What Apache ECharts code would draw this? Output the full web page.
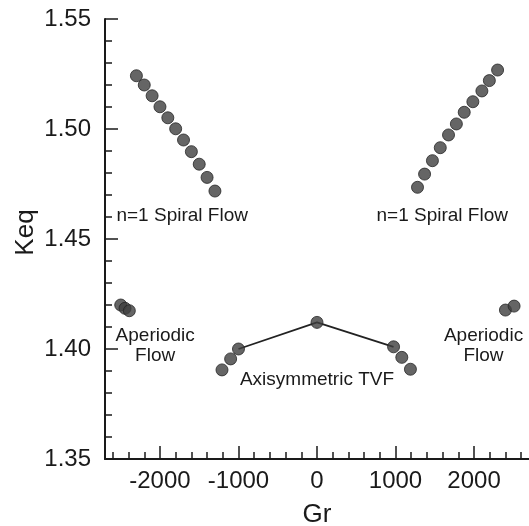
<!DOCTYPE html>
<html>
<head>
<meta charset="utf-8">
<script src="https://cdn.jsdelivr.net/npm/echarts@6/dist/echarts.min.js"></script>
<style>
html,body{margin:0;padding:0;background:#fff;}
#chart{width:529px;height:526px;}
</style>
</head>
<body>
<div id="chart"></div>
<script>
// ---- data ----
const spiralLeftGr  = [-2300,-2200,-2100,-2000,-1900,-1800,-1700,-1600,-1500,-1400,-1300];
const spiralLeftKeq = [1.5242,1.5200,1.5151,1.5101,1.5051,1.5001,1.4950,1.4897,1.4840,1.4780,1.4718];
const spiralRightGr  = [1280,1370,1470,1570,1675,1775,1875,1985,2100,2195,2300];
const spiralRightKeq = [1.4735,1.4795,1.4856,1.4915,1.4973,1.5023,1.5076,1.5124,1.5173,1.5220,1.5268];
const aperiodicLeftGr  = [-2500,-2445,-2390];
const aperiodicLeftKeq = [1.4200,1.4185,1.4174];
const aperiodicRightGr  = [2400,2510];
const aperiodicRightKeq = [1.4177,1.4195];
const tvfGr  = [-1210,-1100,-1000,0,975,1080,1190];
const tvfKeq = [1.3905,1.3955,1.4000,1.4121,1.4010,1.3962,1.3908];
const tvfLineIdx = [2,3,4];   // points joined by the line

const xTickLabels = [-2000,-1000,0,1000,2000];
const xMinorTicks = [-2600,-2400,-2200,-1800,-1600,-1400,-1200,-800,-600,-400,-200,200,400,600,800,1200,1400,1600,1800,2200,2400,2600];
const annoText = ['n=1 Spiral Flow','n=1 Spiral Flow','Aperiodic\nFlow','Aperiodic\nFlow','Axisymmetric TVF'];
const annoGr   = [-1717,1595,-2061,2121,0];
const annoKeq  = [1.4605,1.4605,1.4015,1.4015,1.3862];

const zip = (a,b) => a.map((v,i)=>[v,b[i]]);
const FONT = 'Liberation Sans, Arial, Helvetica, sans-serif';
const dot = {color:'#3e3e3e', borderColor:'#262626', borderWidth:1};

function scatter(name, xs, ys){
  return {type:'scatter', name, data: zip(xs,ys), symbolSize:12, itemStyle:dot, z:5, xAxisIndex:0};
}

const chart = echarts.init(document.getElementById('chart'));
chart.setOption({
  animation:false,
  backgroundColor:'#fff',
  grid:{left:105, right:0, top:19, bottom:67, containLabel:false, outerBoundsMode:'none'},
  xAxis:[{
    type:'value', min:-2700, max:2700, position:'bottom',
    name:'Gr', nameLocation:'middle', nameGap:43, nameMoveOverlap:false,
    nameTextStyle:{fontFamily:FONT, fontSize:26, color:'#1a1a1a'},
    axisLine:{show:true, onZero:false, lineStyle:{color:'#1a1a1a', width:2}},
    axisTick:{show:true, inside:true, length:13, customValues:xTickLabels, lineStyle:{color:'#1a1a1a', width:1.5}},
    axisLabel:{customValues:xTickLabels, margin:10, fontFamily:FONT, fontSize:24, color:'#1a1a1a', formatter:v=>String(v)},
    splitLine:{show:false}
  },{
    type:'value', min:-2700, max:2700, position:'bottom',
    axisLine:{show:false, onZero:false},
    axisTick:{show:true, inside:true, length:7, customValues:xMinorTicks, lineStyle:{color:'#1a1a1a', width:1.5}},
    axisLabel:{show:false},
    splitLine:{show:false}
  }],
  yAxis:{
    type:'value', min:1.35, max:1.55, interval:0.05,
    name:'Keq', nameLocation:'middle', nameGap:66, nameRotate:90, nameMoveOverlap:false,
    nameTextStyle:{fontFamily:FONT, fontSize:26, color:'#1a1a1a', padding:[0,0,0,13]},
    axisLine:{show:true, onZero:false, lineStyle:{color:'#1a1a1a', width:2}},
    axisTick:{show:true, inside:true, length:13, lineStyle:{color:'#1a1a1a', width:1.5}},
    minorTick:{show:true, splitNumber:5, length:7, lineStyle:{color:'#1a1a1a', width:1.5}},
    axisLabel:{margin:14, fontFamily:FONT, fontSize:24, color:'#1a1a1a', formatter:v=>v.toFixed(2)},
    splitLine:{show:false}
  },
  series:[
    {type:'line', data: tvfLineIdx.map(i=>[tvfGr[i], tvfKeq[i]]), symbol:'none',
     lineStyle:{color:'#222', width:1.8}, z:3, xAxisIndex:0},
    scatter('spiralLeft', spiralLeftGr, spiralLeftKeq),
    scatter('spiralRight', spiralRightGr, spiralRightKeq),
    scatter('aperiodicLeft', aperiodicLeftGr, aperiodicLeftKeq),
    scatter('aperiodicRight', aperiodicRightGr, aperiodicRightKeq),
    scatter('tvf', tvfGr, tvfKeq),
    {type:'scatter', name:'labels', xAxisIndex:0, symbolSize:1,
     itemStyle:{color:'#fff', opacity:0}, z:6,
     data: annoText.map((t,i)=>({value:[annoGr[i], annoKeq[i]], name:t})),
     label:{show:true, position:'inside', formatter:p=>p.name, fontFamily:FONT, fontSize:19,
            color:'#1a1a1a', opacity:1, textBorderWidth:0, lineHeight:20, align:'center', verticalAlign:'middle'}}
  ]
});
</script>
</body>
</html>
